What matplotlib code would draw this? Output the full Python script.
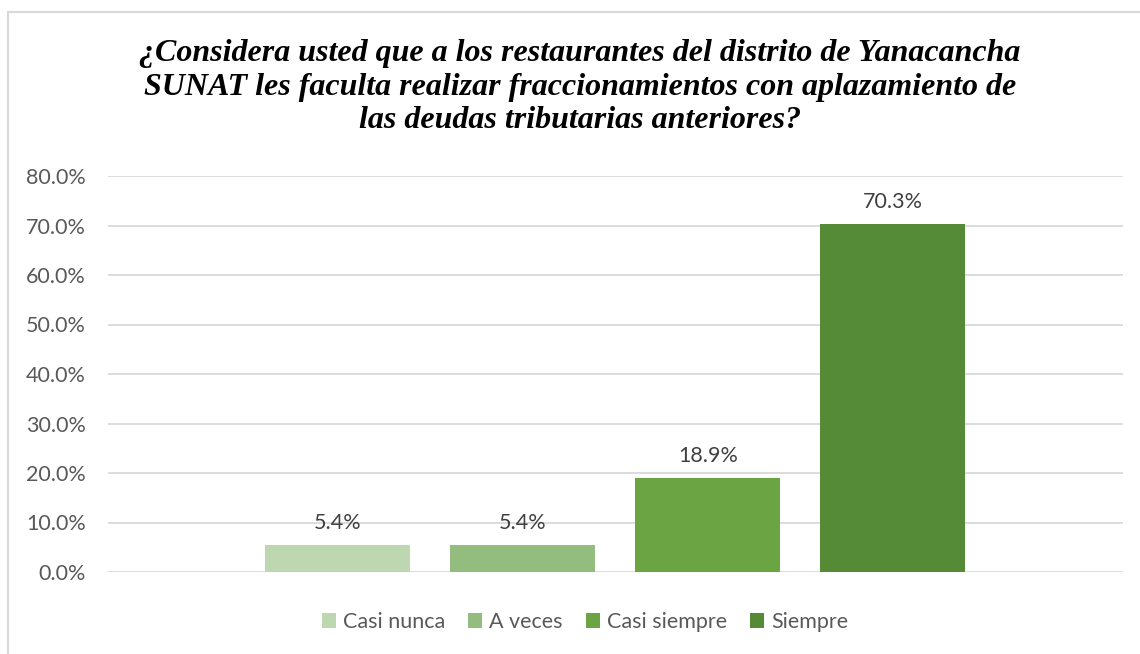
import matplotlib
matplotlib.use("Agg")
import matplotlib.pyplot as plt
from matplotlib.patches import Rectangle
from matplotlib.ticker import FuncFormatter

categorias = ["Casi nunca", "A veces", "Casi siempre", "Siempre"]
porcentajes = [5.4, 5.4, 18.9, 70.3]
colores = ["#BDD7B1", "#93BD7E", "#6AA443", "#558B37"]
titulo = ("¿Considera usted que a los restaurantes del distrito de Yanacancha\n"
          "SUNAT les faculta realizar fraccionamientos con aplazamiento de\n"
          "las deudas tributarias anteriores?")

plt.rcParams['font.family'] = ['Lato', 'DejaVu Sans']

fig = plt.figure(figsize=(11.4, 6.54), dpi=100)
ax = fig.add_axes([108/1140, 1-572/654, (1123-108)/1140, (572-176)/654])

# marco del grafico
fig.patches.append(Rectangle((8/1140, -0.05), 1.1, 1-12/654+0.05, transform=fig.transFigure,
                             fill=False, edgecolor="#D9D9D9", linewidth=1.5))

barras = []
for i, (cat, val, col) in enumerate(zip(categorias, porcentajes, colores)):
    b = ax.bar(i, val, width=0.785, color=col, label=cat, zorder=3)
    barras.append(b)
    ax.annotate(f"{val:.1f}%", (i, val), xytext=(0, 9), textcoords="offset points",
                ha="center", va="bottom", fontsize=15.5, color="#404040")

ax.set_xlim(-1.243, 4.245)
ax.set_ylim(0, 80)
ax.set_yticks(range(0, 81, 10))
ax.yaxis.set_major_formatter(FuncFormatter(lambda v, p: f"{v:.1f}%"))
ax.tick_params(axis="y", length=0, pad=16, labelsize=15.5, labelcolor="#595959")
ax.set_xticks([])
ax.grid(axis="y", color="#D9D9D9", linewidth=1.3, zorder=0)
for s in ax.spines.values():
    s.set_visible(False)

fig.text(580/1140, 1-87/654, titulo, ha="center", va="center", fontsize=23,
         family="Liberation Serif", weight="bold", style="italic", linespacing=1.22)

fig.legend(handles=barras, labels=categorias, loc="center", bbox_to_anchor=(585/1140, 1-622/654),
           ncol=4, frameon=False, fontsize=15.5, labelcolor="#595959",
           handlelength=0.65, handleheight=0.65, handletextpad=0.3, columnspacing=1.1)

fig.savefig("out.png", dpi=100)
